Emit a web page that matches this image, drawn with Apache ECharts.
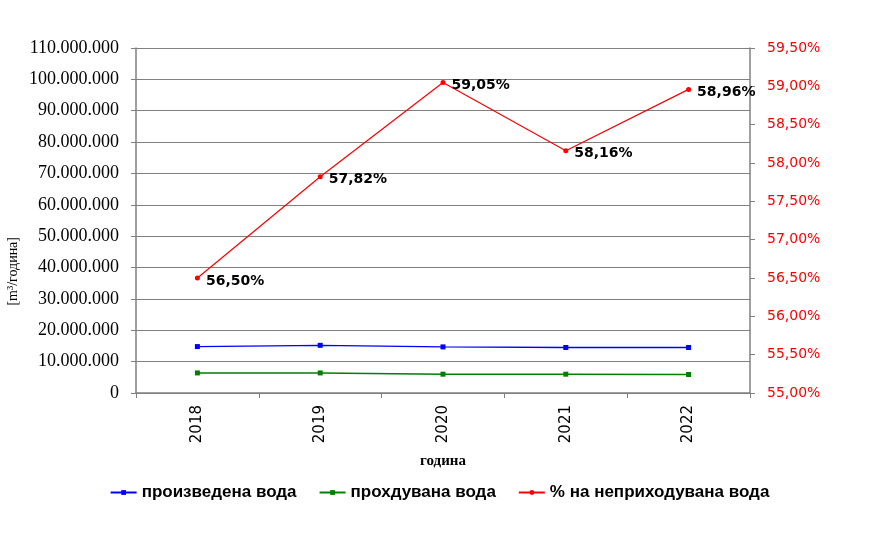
<!DOCTYPE html>
<html>
<head>
<meta charset="utf-8">
<script src="https://cdn.jsdelivr.net/npm/echarts@6/dist/echarts.min.js"></script>
<style>html,body{margin:0;padding:0;background:#fff;}#c{width:879px;height:544px;}</style>
</head>
<body>
<div id="c"></div>
<script>
const categories = ['2018', '2019', '2020', '2021', '2022'];
const produced = [14800000, 15200000, 14700000, 14500000, 14500000];
const billed = [6400000, 6400000, 6000000, 6000000, 5900000];
const nonRevenue = [56.50, 57.82, 59.05, 58.16, 58.96];
const seriesNames = ['произведена вода', 'прохдувана вода', '% на неприходувана вода'];

const chart = echarts.init(document.getElementById('c'), null, {renderer: 'canvas'});
function thousands(v) {
  return String(Math.round(v)).replace(/\B(?=(\d{3})+(?!\d))/g, '.');
}
function pct(v) {
  return v.toFixed(2).replace('.', ',') + '%';
}
chart.setOption({
  animation: false,
  backgroundColor: '#fff',
  grid: {left: 136, right: 129, top: 48, bottom: 151, containLabel: false},
  legend: {
    bottom: 38,
    left: 'center',
    itemGap: 22,
    itemWidth: 26,
    itemHeight: 6,
    textStyle: {fontFamily: 'Liberation Sans Narrow, Liberation Sans', fontWeight: 'bold', fontSize: 17, color: '#000'},
    data: seriesNames
  },
  xAxis: {
    type: 'category',
    data: categories,
    boundaryGap: true,
    name: 'година',
    nameLocation: 'middle',
    nameGap: 61,
    nameTextStyle: {fontFamily: 'Liberation Serif', fontWeight: 'bold', fontSize: 15, color: '#000'},
    axisLine: {lineStyle: {color: '#808080', width: 1.5}},
    axisTick: {show: true, length: 5, lineStyle: {color: '#808080'}},
    axisLabel: {rotate: 90, fontFamily: 'DejaVu Sans', fontSize: 15, color: '#000', margin: 12}
  },
  yAxis: [
    {
      type: 'value', min: 0, max: 110000000, interval: 10000000,
      position: 'left',
      axisLine: {show: true, lineStyle: {color: '#808080', width: 1.5}},
      axisTick: {show: true, length: 5, lineStyle: {color: '#808080'}},
      splitLine: {show: true, lineStyle: {color: '#808080', width: 1}},
      axisLabel: {formatter: thousands, fontFamily: 'Liberation Serif', fontSize: 18, color: '#000', margin: 17}
    },
    {
      type: 'value', min: 55, max: 59.5, interval: 0.5,
      position: 'right',
      axisLine: {show: true, lineStyle: {color: '#808080', width: 1.5}},
      axisTick: {show: true, length: 5, lineStyle: {color: '#808080'}},
      splitLine: {show: false},
      axisLabel: {formatter: pct, fontFamily: 'DejaVu Sans', fontSize: 14, color: '#ff0000', margin: 17}
    }
  ],
  series: [
    {
      name: seriesNames[0], type: 'line', data: produced, yAxisIndex: 0,
      symbol: 'rect', symbolSize: 5,
      itemStyle: {color: '#0000ff'}, lineStyle: {color: '#0000ff', width: 1.4}
    },
    {
      name: seriesNames[1], type: 'line', data: billed, yAxisIndex: 0,
      symbol: 'rect', symbolSize: 5,
      itemStyle: {color: '#008000'}, lineStyle: {color: '#008000', width: 1.4}
    },
    {
      name: seriesNames[2], type: 'line', data: nonRevenue, yAxisIndex: 1,
      symbol: 'circle', symbolSize: 5,
      itemStyle: {color: '#ff0000'}, lineStyle: {color: '#ff0000', width: 1.2},
      label: {
        show: true, position: 'right', distance: 6, offset: [0, 3],
        formatter: p => pct(p.value),
        fontFamily: 'DejaVu Sans', fontWeight: 'bold', fontSize: 14, color: '#000'
      }
    }
  ],
  graphic: [
    {
      type: 'text', left: 6, top: 237, rotation: Math.PI / 2,
      style: {text: '[m³/година]', fontFamily: 'Liberation Serif', fontSize: 14, fill: '#000'}
    }
  ]
});
</script>
</body>
</html>
